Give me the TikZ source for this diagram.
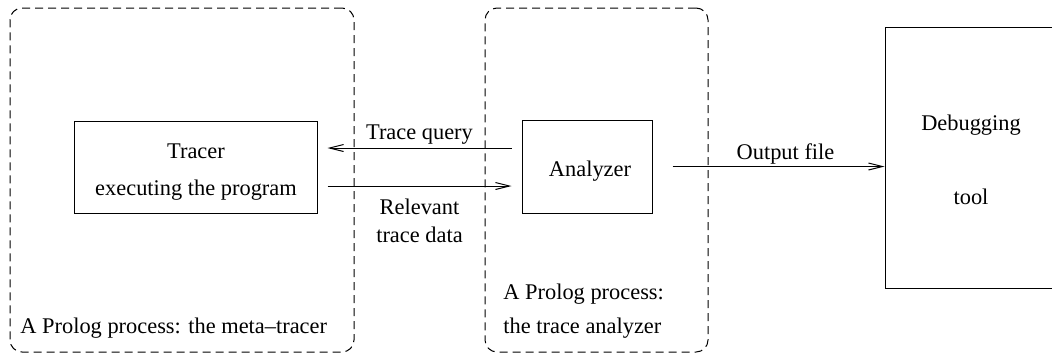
\documentclass[tikz,border=0pt]{standalone}
\usepackage{fontspec}
\setmainfont{Liberation Serif}
\usetikzlibrary{arrows.meta}
\begin{document}
\begin{tikzpicture}[x=0.5pt,y=-0.5pt,
  every node/.style={font=\fontsize{11.2}{14}\selectfont},
  box/.style={draw, line width=0.5pt, inner sep=0pt},
  proc/.style={draw, dash pattern=on 4pt off 2.5pt, rounded corners=6pt, line width=0.5pt, inner sep=0pt},
  flow/.style={-{Straight Barb[length=7pt,width=3.5pt]}, line width=0.5pt}]
\useasboundingbox (0,0) rectangle (1052,354);
\node[proc, minimum width=172pt, minimum height=172pt] (meta) at (182,180){};
\node[proc, minimum width=111.5pt, minimum height=172pt] (anaproc) at (596.5,180){};
\node[box, minimum width=121.5pt, minimum height=46pt] (tracer) at (195.5,167){};
\node[box, minimum width=65pt, minimum height=46.5pt] (ana) at (587,166.5){};
\node[box, minimum width=88.5pt, minimum height=130.5pt] (dbg) at (973.5,157.5){};
\node[align=center] (trtxt) at (196,172){Tracer\\[4.5pt]executing the program};
\node (anatxt) at (590,171){Analyzer};
\node[align=center] (dbgtxt) at (971,160){Debugging\\[23pt]tool};
\node[anchor=west, inner sep=0pt] (metalbl) at (20,328){A Prolog process: the meta--tracer};
\node[anchor=west, inner sep=0pt, align=left] (analbl) at (503,311){A Prolog process:\\[3pt]the trace analyzer};
\draw[flow, shorten <=5pt, shorten >=5pt] ([yshift=9.5pt]tracer.east -| ana.west) -- ([yshift=9.5pt]tracer.east) node[midway, above, yshift=-1.5pt] (tq){Trace query};
\draw[flow, shorten <=5pt, shorten >=5pt] ([yshift=-9.5pt]tracer.east) -- ([yshift=-9.5pt]tracer.east -| ana.west) node[midway, below, yshift=-3pt, align=center] (rtd){Relevant\\trace data};
\draw[flow, shorten <=10pt] (ana.east) -- (ana.east -| dbg.west) node[midway, above, xshift=8.5pt, yshift=-2.5pt] (out){Output file};
\end{tikzpicture}
\end{document}
